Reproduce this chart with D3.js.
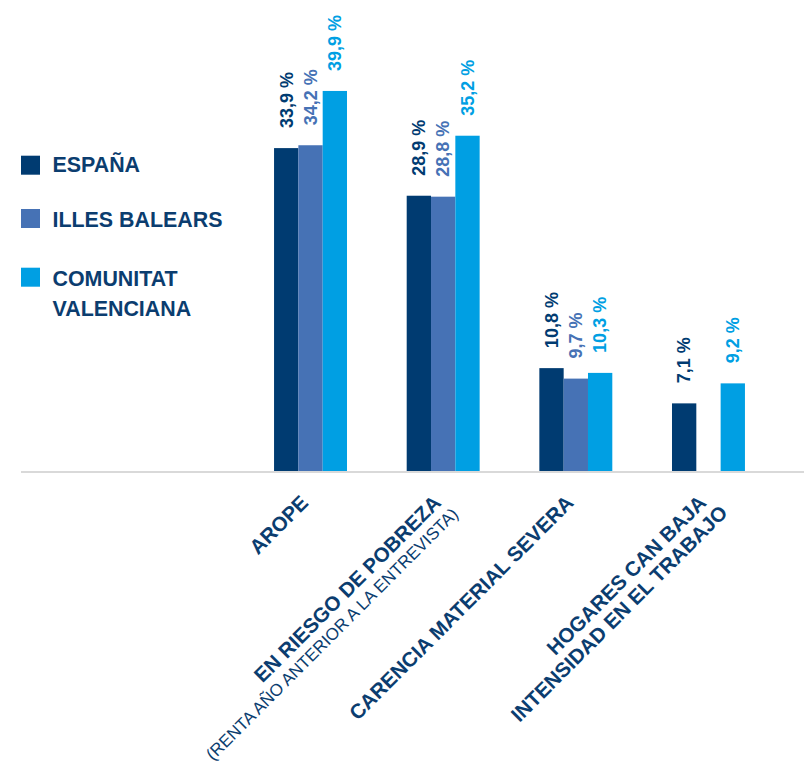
<!DOCTYPE html>
<html><head><meta charset="utf-8">
<script src="https://cdn.jsdelivr.net/npm/d3@7"></script>
<style>
html,body{margin:0;padding:0;background:#fff;}
svg{display:block;font-family:"Liberation Sans",Arial,sans-serif;}
</style></head>
<body>
<svg id="chart" width="804" height="772"></svg>
<script>
const categories = ["AROPE", "EN RIESGO DE POBREZA", "CARENCIA MATERIAL SEVERA", "HOGARES CAN BAJA"];
const categorySecondLines = ["", "(RENTA AÑO ANTERIOR A LA ENTREVISTA)", "", "INTENSIDAD EN EL TRABAJO"];
const secondLineBold = [false, false, false, true];
const seriesNames = ["ESPAÑA", "ILLES BALEARS", "COMUNITAT VALENCIANA"];
const espana = [33.9, 28.9, 10.8, 7.1];
const illesBalears = [34.2, 28.8, 9.7, null];
const comunitatValenciana = [39.9, 35.2, 10.3, 9.2];
const valueLabels = {
  espana: ["33,9 %", "28,9 %", "10,8 %", "7,1 %"],
  illesBalears: ["34,2 %", "28,8 %", "9,7 %", ""],
  comunitatValenciana: ["39,9 %", "35,2 %", "10,3 %", "9,2 %"]
};

const colors = ["#003b71", "#4672b5", "#009fe3"];
const textColor = "#0b3d6f";

const svg = d3.select("#chart");
const baseY = 471;

const series = [
  {key: "espana", name: seriesNames[0], values: espana, color: colors[0]},
  {key: "illesBalears", name: seriesNames[1], values: illesBalears, color: colors[1]},
  {key: "comunitatValenciana", name: seriesNames[2], values: comunitatValenciana, color: colors[2]}
];

const x0 = d3.scaleBand().domain(categories).range([244.2, 774.8]).paddingInner(0.45).paddingOuter(0.225);
const x1 = d3.scaleBand().domain(series.map(s => s.key)).range([0, x0.bandwidth()]).padding(0);
const y = d3.scaleLinear().domain([0, 40]).range([baseY, 90]);

// axis line
svg.append("line").attr("x1", 21).attr("x2", 804).attr("y1", baseY + 1).attr("y2", baseY + 1)
  .attr("stroke", "#d9d9d9").attr("stroke-width", 2);

// bars
series.forEach(s => {
  const g = svg.append("g");
  categories.forEach((c, i) => {
    const v = s.values[i];
    if (v == null) return;
    const bx = x0(c) + x1(s.key);
    g.append("rect")
      .attr("x", bx).attr("y", y(v))
      .attr("width", x1.bandwidth()).attr("height", y(0) - y(v))
      .attr("fill", s.color);
    const cx = bx + x1.bandwidth() / 2;
    g.append("text")
      .attr("transform", `translate(${cx},${y(v) - 20}) rotate(-90)`)
      .attr("dy", "0.35em")
      .attr("text-anchor", "start")
      .attr("font-size", 18).attr("font-weight", "bold")
      .attr("fill", s.color)
      .text(valueLabels[s.key][i]);
  });
});

// category labels
categories.forEach((c, i) => {
  const cx = x0(c) + x0.bandwidth() / 2;
  const g = svg.append("g").attr("transform", `translate(${cx - 1},${baseY + 33}) rotate(-45)`);
  g.append("text").attr("text-anchor", "end").attr("font-size", 20.5).attr("font-weight", "bold")
    .attr("fill", textColor).text(c);
  if (categorySecondLines[i]) {
    const bold = secondLineBold[i];
    g.append("text").attr("text-anchor", "end")
      .attr("x", bold ? 8 : 4).attr("y", bold ? 22 : 20)
      .attr("font-size", bold ? 20.5 : 17)
      .attr("font-weight", bold ? "bold" : "normal")
      .attr("fill", textColor).text(categorySecondLines[i]);
  }
});

// legend
const legendRows = [
  {lines: ["ESPAÑA"], sq: 155.7, base: 172.3, color: colors[0]},
  {lines: ["ILLES BALEARS"], sq: 209, base: 226.7, color: colors[1]},
  {lines: ["COMUNITAT", "VALENCIANA"], sq: 267.7, base: 285.7, color: colors[2]}
];
legendRows.forEach(r => {
  svg.append("rect").attr("x", 21).attr("y", r.sq).attr("width", 19).attr("height", 19).attr("fill", r.color);
  r.lines.forEach((t, j) => {
    svg.append("text").attr("x", 52.5).attr("y", r.base + j * 30.3)
      .attr("font-size", 21.4).attr("font-weight", "bold").attr("fill", textColor).text(t);
  });
});
</script>
</body></html>
